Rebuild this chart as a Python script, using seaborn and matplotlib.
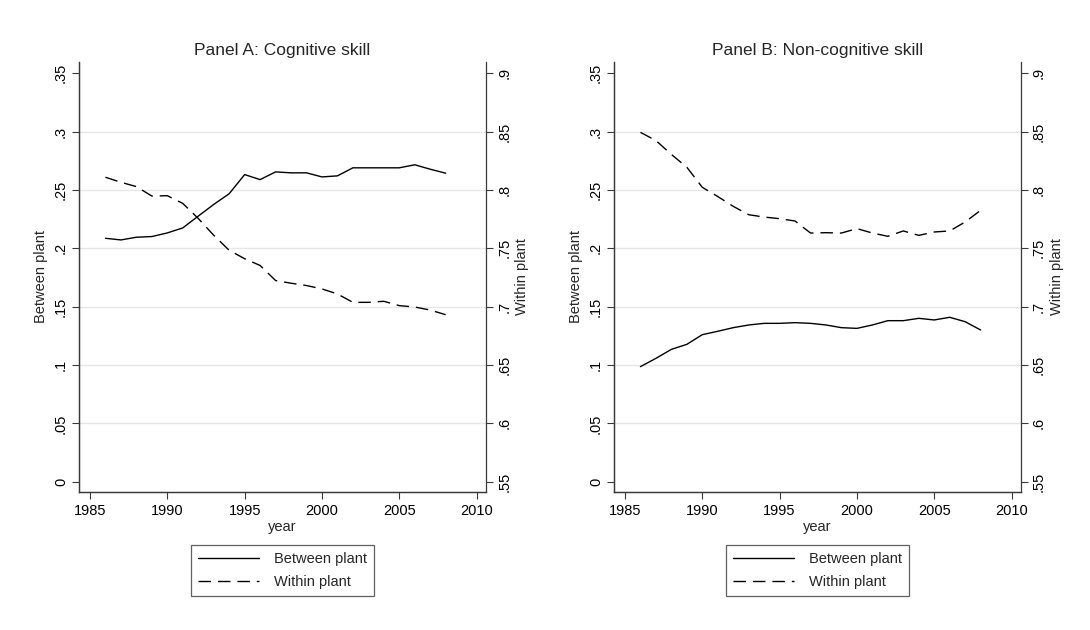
import matplotlib
matplotlib.use("Agg")
import matplotlib.pyplot as plt
import numpy as np
import pandas as pd
import seaborn as sns

years = list(range(1986, 2009))

# Panel A: cognitive skill
cog_between = [0.2086, 0.2072, 0.2095, 0.2101, 0.2132, 0.2175, 0.2276, 0.2376,
               0.2468, 0.2632, 0.2589, 0.2655, 0.2647, 0.2647, 0.2612, 0.2621,
               0.2690, 0.2690, 0.2690, 0.2690, 0.2716, 0.2678, 0.2644]
cog_within = [0.8109, 0.8066, 0.8029, 0.7948, 0.7951, 0.7885, 0.7756, 0.7612,
              0.7483, 0.7411, 0.7353, 0.7224, 0.7201, 0.7181, 0.7152, 0.7109,
              0.7037, 0.7037, 0.7046, 0.7009, 0.6997, 0.6971, 0.6931]

# Panel B: non-cognitive skill
noncog_between = [0.0986, 0.1057, 0.1134, 0.1177, 0.1260, 0.1289, 0.1320, 0.1343,
                  0.1357, 0.1357, 0.1363, 0.1357, 0.1343, 0.1320, 0.1314, 0.1343,
                  0.1380, 0.1380, 0.1400, 0.1386, 0.1409, 0.1371, 0.1300]
noncog_within = [0.8494, 0.8424, 0.8305, 0.8195, 0.8023, 0.7944, 0.7860, 0.7788,
                 0.7768, 0.7754, 0.7734, 0.7631, 0.7634, 0.7631, 0.7669, 0.7631,
                 0.7603, 0.7649, 0.7611, 0.7640, 0.7649, 0.7726, 0.7826]

panel_titles = ["Panel A: Cognitive skill", "Panel B: Non-cognitive skill"]
left_ticks = [0, 0.05, 0.1, 0.15, 0.2, 0.25, 0.3, 0.35]
right_ticks = [0.55, 0.6, 0.65, 0.7, 0.75, 0.8, 0.85, 0.9]
x_ticks = [1985, 1990, 1995, 2000, 2005, 2010]

sns.set_theme(style="white")
plt.rcParams["font.family"] = ["Liberation Sans", "DejaVu Sans"]

FS = 10.5
SPINE = "#3a3a3a"


def stata_fmt(v):
    s = f"{v:g}"
    return s[1:] if s.startswith("0.") else s


fig = plt.figure(figsize=(10.9, 6.3), dpi=100)

panels = [
    (0.0725, cog_between, cog_within),
    (0.5633, noncog_between, noncog_within),
]

for i, (left, between, within) in enumerate(panels):
    df = pd.DataFrame({"year": years, "between": between, "within": within})
    ax = fig.add_axes([left, 0.2195, 0.3734, 0.6821])
    ax2 = ax.twinx()

    sns.lineplot(data=df, x="year", y="between", ax=ax, color="black",
                 lw=1.0, label="Between plant", legend=False)
    sns.lineplot(data=df, x="year", y="within", ax=ax2, color="black",
                 lw=1.0, label="Within plant", legend=False)
    ax2.lines[0].set_dashes((9, 5))

    ax.set_xlim(1984.29, 2010.61)
    ax.set_ylim(-0.0086, 0.3597)
    ax2.set_ylim(-0.0086 + 0.55, 0.3597 + 0.55)

    ax.set_xticks(x_ticks)
    ax.set_xticklabels([str(t) for t in x_ticks], fontsize=FS)
    ax.set_yticks(left_ticks)
    ax.set_yticklabels([stata_fmt(t) for t in left_ticks], rotation=90,
                       va="center", fontsize=FS)
    ax2.set_yticks(right_ticks)
    ax2.set_yticklabels([stata_fmt(t) for t in right_ticks], rotation=90,
                        va="center", fontsize=FS)

    for t in left_ticks[1:-1]:
        ax.axhline(t, color="#e6e6e6", lw=1.0, zorder=0)

    for a in (ax, ax2):
        a.tick_params(direction="out", length=5, width=0.8, color=SPINE,
                      pad=3, labelcolor="black")
        a.spines["top"].set_visible(False)
        for s in ("left", "right", "bottom"):
            a.spines[s].set_color(SPINE)
            a.spines[s].set_linewidth(0.9)
    ax.tick_params(axis="y", left=True, right=False)
    ax.tick_params(axis="x", bottom=True, pad=4)
    ax2.tick_params(axis="y", right=True)
    ax.spines["right"].set_visible(False)

    ax.set_xlabel("year", fontsize=FS, labelpad=1)
    ax.set_ylabel("Between plant", fontsize=FS, labelpad=4)
    ax2.set_ylabel("Within plant", fontsize=FS, labelpad=3, rotation=90)
    ax.set_title(panel_titles[i], fontsize=12.5, pad=5)

    handles = ax.get_lines()[:1] + ax2.get_lines()[:1]
    leg = ax.legend(handles, ["Between plant", "Within plant"],
                    loc="upper center", bbox_to_anchor=(0.5, -0.124),
                    frameon=True, fancybox=False, fontsize=FS,
                    handlelength=4.2, handletextpad=1.0, borderpad=0.5,
                    labelspacing=0.6, borderaxespad=0)
    leg.get_frame().set_edgecolor(SPINE)
    leg.get_frame().set_linewidth(0.9)

fig.savefig("out.png", dpi=100, facecolor="white")
